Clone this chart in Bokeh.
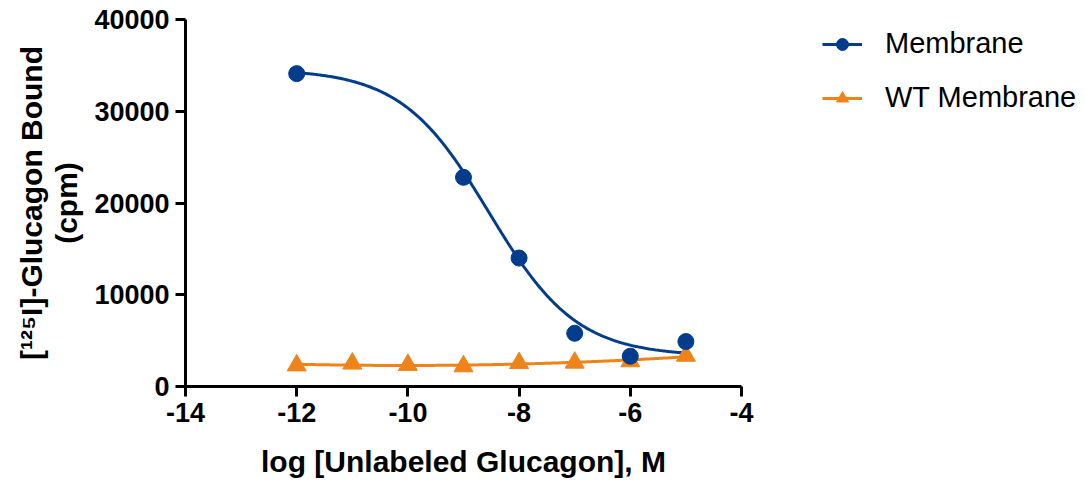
import numpy as np
from bokeh.plotting import figure
from bokeh.models import (Range1d, FixedTicker, Legend, LegendItem, LinearAxis)
from bokeh.embed import file_html
from bokeh.resources import INLINE

# ---- data ----
mem_x = [-12, -9, -8, -7, -6, -5]
mem_y = [34100, 22800, 14000, 5800, 3300, 4900]
wt_x = [-12, -11, -10, -9, -8, -7, -6, -5]
wt_y = [2300, 2500, 2350, 2200, 2550, 2600, 2750, 3350]
x_ticks = [-14, -12, -10, -8, -6, -4]
y_ticks = [0, 10000, 20000, 30000, 40000]
series_names = ["Membrane", "WT Membrane"]
x_title = "log [Unlabeled Glucagon], M"
y_title_1 = "[¹²⁵I]-Glucagon Bound"
y_title_2 = "(cpm)"

# fitted competition-curve parameters
mem_fit_top = 34600
mem_fit_bottom = 3300
mem_fit_logic50 = -8.54
mem_fit_hill = 0.55

BLUE = "#023C8C"
ORANGE = "#EE8419"
FONT = "Liberation Sans"

# fitted curves
xf = np.linspace(min(mem_x), max(mem_x), 300)
mem_fit = mem_fit_bottom + (mem_fit_top - mem_fit_bottom) / (1 + 10 ** (mem_fit_hill * (xf - mem_fit_logic50)))
wt_coef = np.polyfit(wt_x, wt_y, 2)
xw = np.linspace(min(wt_x), max(wt_x), 300)
wt_fit = np.polyval(wt_coef, xw)

FL, FT, FW, FH = 185, 19, 556, 367
W, H = 1077, 472

p = figure(width=W, height=H, output_backend="svg", toolbar_location=None,
           x_range=Range1d(-14, -4), y_range=Range1d(0, 40000),
           frame_width=FW, frame_height=FH,
           min_border_left=FL, min_border_top=FT,
           min_border_right=W - FL - FW, min_border_bottom=H - FT - FH)
p.outline_line_color = None
p.xgrid.visible = False
p.ygrid.visible = False
p.background_fill_color = "white"
p.border_fill_color = "white"

for ax in (p.xaxis[0], p.yaxis[0]):
    ax.axis_line_width = 3
    ax.axis_line_color = "black"
    ax.major_tick_line_width = 3
    ax.major_tick_line_color = "black"
    ax.major_tick_out = 10
    ax.major_tick_in = 0
    ax.minor_tick_line_color = None
    ax.major_label_text_font = FONT
    ax.major_label_text_font_style = "bold"
    ax.major_label_text_font_size = "27px"
    ax.major_label_text_color = "black"
    ax.axis_label_text_font = FONT
    ax.axis_label_text_font_style = "bold"
    ax.axis_label_text_font_size = "30px"
    ax.axis_label_text_color = "black"

p.xaxis.ticker = FixedTicker(ticks=x_ticks)
p.yaxis.ticker = FixedTicker(ticks=y_ticks)
p.xaxis.major_label_overrides = {t: str(t) for t in x_ticks}
p.yaxis.major_label_overrides = {t: str(t) for t in y_ticks}
p.xaxis.major_label_standoff = 6
p.yaxis.major_label_standoff = 6
p.xaxis.axis_label = x_title
p.xaxis.axis_label_standoff = 20
p.yaxis.axis_label = y_title_2
p.yaxis.axis_label_standoff = 8

# outer left axis carrying the first line of the y title
y_outer = LinearAxis(ticker=FixedTicker(ticks=[]), axis_line_color=None,
                     major_tick_line_color=None, minor_tick_line_color=None,
                     major_tick_out=0, major_tick_in=0, major_label_standoff=0,
                     major_label_text_font_size="0px",
                     axis_label=y_title_1, axis_label_standoff=0,
                     axis_label_text_font=FONT, axis_label_text_font_style="bold",
                     axis_label_text_font_size="30px", axis_label_text_color="black")
p.add_layout(y_outer, "left")

# curves and points
r_mem_line = p.line(xf, mem_fit, line_color=BLUE, line_width=3)
r_wt_line = p.line(xw, wt_fit, line_color=ORANGE, line_width=3)
r_wt_pts = p.scatter(wt_x, wt_y, marker="triangle", size=19, fill_color=ORANGE, line_color=ORANGE)
r_mem_pts = p.scatter(mem_x, mem_y, marker="circle", size=16, fill_color=BLUE, line_color=BLUE)

legend = Legend(items=[LegendItem(label=series_names[0], renderers=[r_mem_line, r_mem_pts]),
                       LegendItem(label=series_names[1], renderers=[r_wt_line, r_wt_pts])],
                location=(81, 272), margin=0, padding=0,
                glyph_width=40, glyph_height=30, label_height=30, spacing=21,
                label_standoff=23, label_text_font=FONT, label_text_font_size="29px",
                label_text_color="black", border_line_color=None, background_fill_alpha=0)
p.add_layout(legend, "right")

open("out.html", "w").write(file_html(p, INLINE))
